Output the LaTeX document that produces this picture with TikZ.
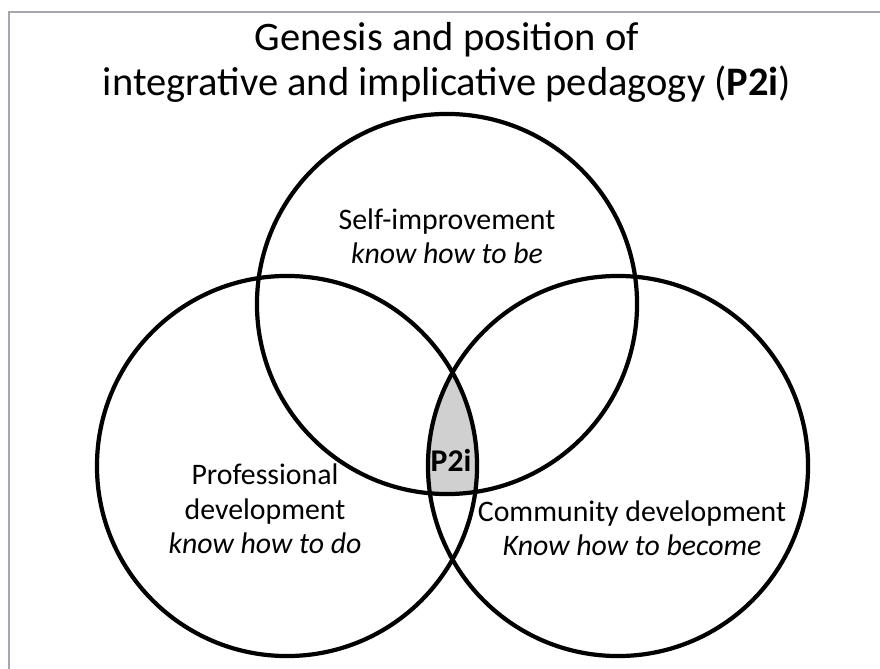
\documentclass[tikz,border=0pt]{standalone}
\usepackage{fontspec}
\setmainfont{Carlito}
\definecolor{lensgray}{RGB}{208,208,208}
\definecolor{framegray}{RGB}{162,168,178}

\begin{document}
\begin{tikzpicture}[x=0.025cm, y=-0.025cm,
    ring/.style={line width=3pt},
    heading/.style={align=center, inner sep=0pt, font=\fontsize{28.8}{32}\selectfont},
    lbl/.style={align=center, inner sep=0pt, font=\fontsize{21.2}{24.5}\selectfont}]
    \useasboundingbox (0,0) rectangle (880,669);
    \draw[framegray, line width=2pt] (9,669) -- (9,12) -- (880,12);

    \node[heading] (title) at (447,62) {Genesis and position of\\integrative and implicative pedagogy (\textbf{P2i})};

    \coordinate (selfc) at (447,304);
    \coordinate (profc) at (287,466);
    \coordinate (commc) at (618,466);

    % common core of the three circles
    \begin{scope}
      \clip (profc) circle (4.75cm);
      \clip (commc) circle (4.75cm);
      \fill[lensgray] (selfc) circle (4.75cm);
    \end{scope}

    \foreach \c in {selfc,profc,commc} {
        \draw[ring] (\c) circle (4.75cm);
    }

    \node[lbl] (self) at (447,236) {Self-improvement\\\textit{know how to be}};
    \node[lbl] (prof) at (265,509) {Professional\\development\\\textit{know how to do}};
    \node[lbl] (comm) at (632,528) {Community development\\\textit{Know how to become}};
    \node[lbl, font=\fontsize{22.5}{24.5}\selectfont\bfseries] (core) at (451,460) {P2i};

\end{tikzpicture}
\end{document}
